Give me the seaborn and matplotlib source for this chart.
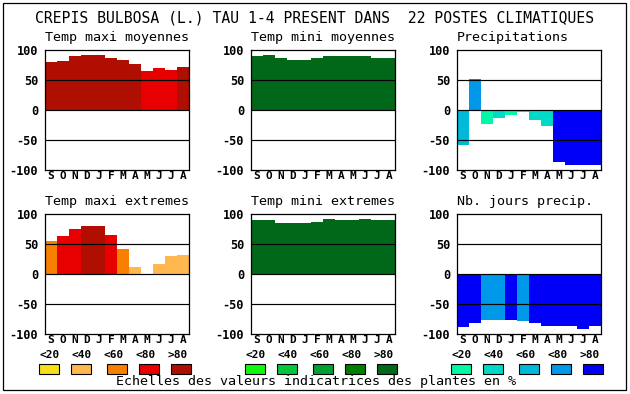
import matplotlib
matplotlib.use("Agg")
import matplotlib.pyplot as plt
import seaborn as sns
import pandas as pd
from matplotlib.patches import Rectangle

# ---------------- data ----------------
months = ["S", "O", "N", "D", "J", "F", "M", "A", "M", "J", "J", "A"]
scale_labels = ["<20", "<40", "<60", "<80", ">80"]

red_scale = ["#f8e018", "#ffb850", "#f88000", "#e80000", "#b00e00"]
green_scale = ["#10f810", "#00c838", "#00a030", "#007c00", "#006818"]
blue_scale = ["#00f8a8", "#00d8c8", "#00b8d8", "#0098e8", "#0000f8"]

main_title = "CREPIS BULBOSA (L.) TAU 1-4 PRESENT DANS  22 POSTES CLIMATIQUES"
footer = "Echelles des valeurs indicatrices des plantes en %"

titles = ["Temp maxi moyennes", "Temp mini moyennes", "Precipitations",
          "Temp maxi extremes", "Temp mini extremes", "Nb. jours precip."]

tmax_moy = [80, 82, 90, 92, 92, 87, 83, 77, 65, 70, 67, 72]
tmax_moy_cls = [4, 4, 4, 4, 4, 4, 4, 4, 3, 3, 3, 4]

tmin_moy = [90, 92, 87, 84, 84, 87, 90, 90, 90, 90, 87, 87]
tmin_moy_cls = [4, 4, 4, 4, 4, 4, 4, 4, 4, 4, 4, 4]

precip = [-58, 52, -24, -13, -8, -4, -16, -26, -86, -91, -91, -91]
precip_cls = [2, 3, 0, 1, 0, 0, 1, 1, 4, 4, 4, 4]

tmax_ext = [55, 63, 75, 80, 80, 65, 42, 12, 0, 17, 30, 32]
tmax_ext_cls = [2, 3, 3, 4, 4, 3, 2, 1, 0, 1, 1, 1]

tmin_ext = [90, 90, 85, 85, 85, 87, 92, 90, 90, 92, 90, 90]
tmin_ext_cls = [4, 4, 4, 4, 4, 4, 4, 4, 4, 4, 4, 4]

nb_jours = [-88, -81, -76, -76, -76, -78, -81, -86, -86, -86, -91, -86]
nb_jours_cls = [4, 4, 3, 3, 4, 3, 4, 4, 4, 4, 4, 4]

panels = [
    (tmax_moy, tmax_moy_cls, red_scale),
    (tmin_moy, tmin_moy_cls, green_scale),
    (precip, precip_cls, blue_scale),
    (tmax_ext, tmax_ext_cls, red_scale),
    (tmin_ext, tmin_ext_cls, green_scale),
    (nb_jours, nb_jours_cls, blue_scale),
]

# ---------------- layout ----------------
W, H = 630, 394
fig = plt.figure(figsize=(W / 100, H / 100), dpi=100)
fig.patch.set_facecolor("white")

MONO = "DejaVu Sans Mono"

def fx(px):
    return px / W

def fy(py):
    return 1 - py / H

col_left = [45, 251, 457]
ax_w = 144
row_top = [50, 214]
ax_h = 120

fig.add_artist(Rectangle((fx(3), fy(390)), (626 - 3) / W, (390 - 3) / H,
                         transform=fig.transFigure, fill=False,
                         edgecolor="black", linewidth=0.9))

fig.text(fx(315), fy(18), main_title, ha="center", va="center",
         family=MONO, fontsize=10.6, color="black")

for i, (vals, cls, scale) in enumerate(panels):
    r, c = divmod(i, 3)
    L = col_left[c]
    T = row_top[r]
    ax = fig.add_axes([fx(L), fy(T + ax_h), ax_w / W, ax_h / H])
    keys = [str(k) for k in range(len(months))]
    colors = [scale[k] for k in cls]
    df = pd.DataFrame({"pos": keys, "val": vals})
    sns.barplot(data=df, x="pos", y="val", hue="pos", palette=colors,
                order=keys, hue_order=keys, legend=False, width=1.0,
                saturation=1, ax=ax)
    for p in ax.patches:
        p.set_linewidth(0)
        p.set_edgecolor("none")
        p.set_antialiased(False)
    ax.set_xlim(-0.5, len(months) - 0.5)
    ax.set_ylim(-100, 100)
    ax.set_yticks([-100, -50, 0, 50, 100])
    ax.set_yticklabels(["-100", "-50", "0", "50", "100"],
                       family=MONO, fontweight="bold", fontsize=8.6)
    ax.set_xticks(range(len(months)))
    ax.set_xticklabels(months, family=MONO, fontweight="bold", fontsize=8)
    ax.tick_params(length=0, pad=1.0, axis="x")
    ax.tick_params(length=0, pad=5, axis="y")
    ax.set_xlabel("")
    ax.set_ylabel("")
    for yv in (-50, 0, 50):
        ax.axhline(yv, color="black", linewidth=0.85, zorder=5)
    for sp in ax.spines.values():
        sp.set_visible(True)
        sp.set_color("black")
        sp.set_linewidth(0.9)
        sp.set_zorder(6)
    ax.set_facecolor("white")
    fig.text(fx(L), fy(T - 12), titles[i], ha="left", va="center",
             family=MONO, fontsize=9.6, color="black")

    if r == 1:
        for k, lab in enumerate(scale_labels):
            fig.text(fx(L + 4.5 + 32 * k), fy(355), lab, ha="center",
                     va="center", family=MONO, fontweight="bold",
                     fontsize=8)
        sq_off = [-6, 26, 62, 94, 126]
        for k, off in enumerate(sq_off):
            fig.add_artist(Rectangle((fx(L + off), fy(374)), 20 / W, 10 / H,
                                     transform=fig.transFigure,
                                     facecolor=scale[k], edgecolor="black",
                                     linewidth=0.8))

fig.text(fx(316), fy(382), footer, ha="center", va="center",
         family=MONO, fontsize=9.6, color="black")

fig.savefig("out.png", dpi=100, facecolor="white")
